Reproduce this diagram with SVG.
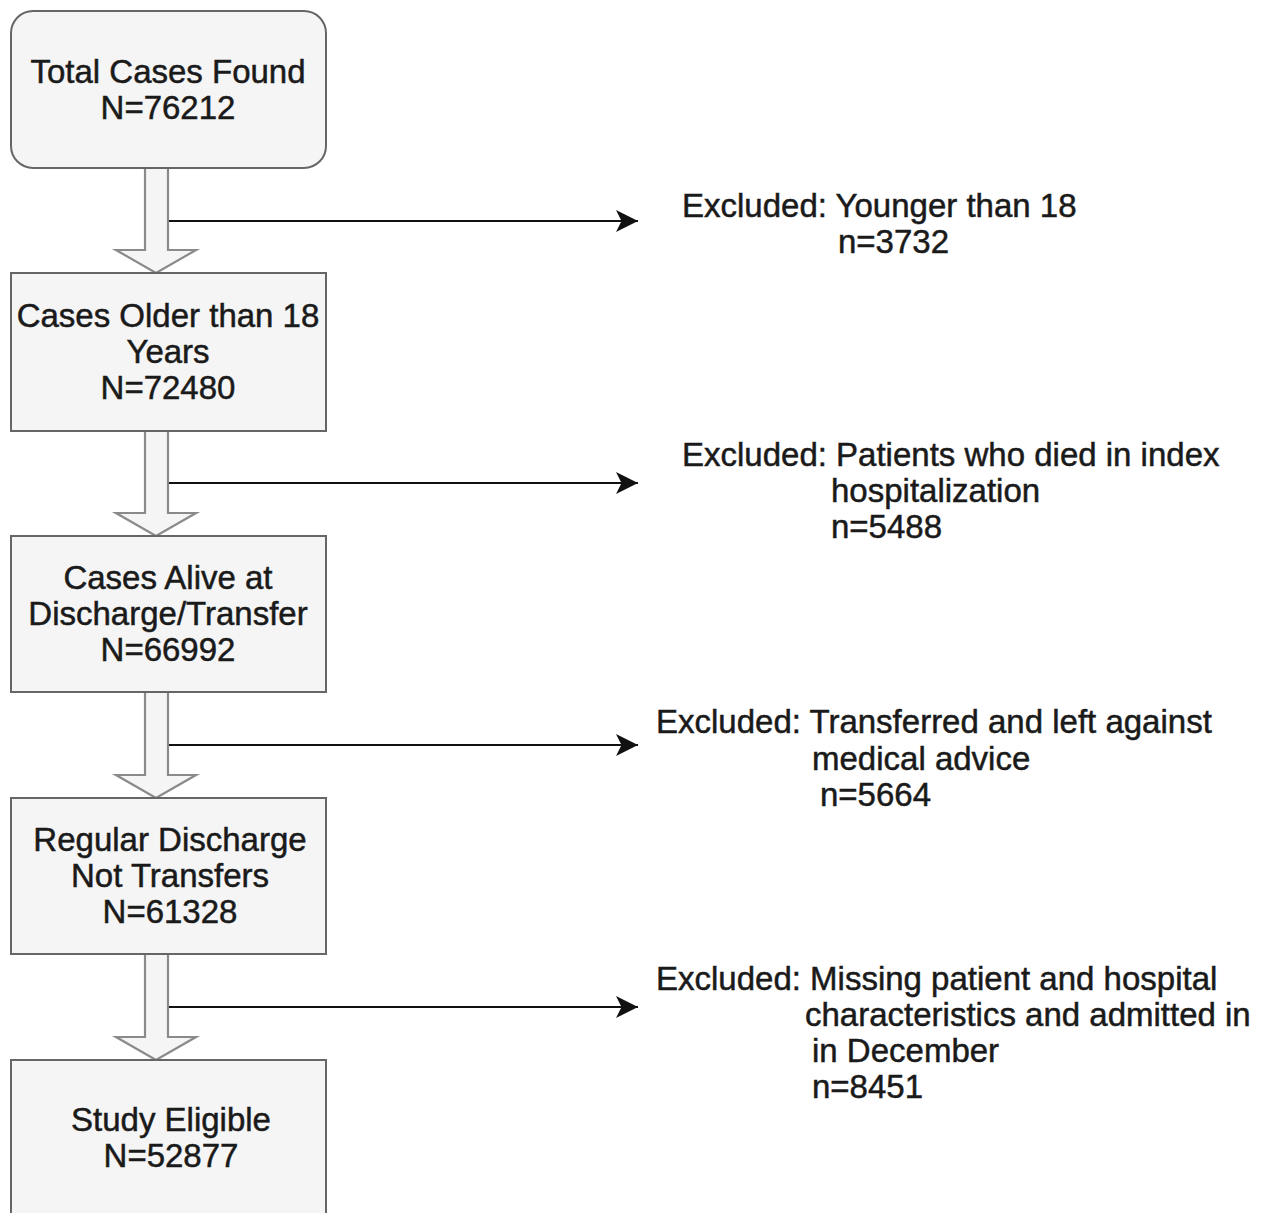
<svg xmlns="http://www.w3.org/2000/svg" width="1287" height="1213" viewBox="0 0 1287 1213">
<defs>
<style>
.box{fill:#f5f5f5;stroke:#666;stroke-width:2}
.blk{fill:#f5f5f5;stroke:#8a8a8a;stroke-width:2.2;stroke-linejoin:miter}
.t{font-family:"Liberation Sans",Arial,sans-serif;font-size:33px;fill:#1a1a1a;stroke:#1a1a1a;stroke-width:0.5}
.c{text-anchor:middle}
.ln{stroke:#111;stroke-width:2.2;fill:none}
</style>
<marker id="ah" markerWidth="12" markerHeight="12" refX="10" refY="5" orient="auto" markerUnits="strokeWidth" viewBox="0 0 12 10">
<path d="M0,0 L10,5 L0,10 L2.5,5 Z" fill="#111"/>
</marker>
</defs>
<rect width="1287" height="1213" fill="#fff"/>
<g id="connectors">
<polygon class="blk" points="145,168 168,168 168,250 196,250 156,273 116,250 145,250"/>
<polygon class="blk" points="145,431 168,431 168,513 196,513 156,536 116,513 145,513"/>
<polygon class="blk" points="145,692 168,692 168,775 196,775 156,798 116,775 145,775"/>
<polygon class="blk" points="145,954 168,954 168,1037 196,1037 156,1060 116,1037 145,1037"/>
<line class="ln" x1="169" y1="221" x2="638" y2="221" marker-end="url(#ah)"/>
<line class="ln" x1="169" y1="483" x2="638" y2="483" marker-end="url(#ah)"/>
<line class="ln" x1="169" y1="745" x2="638" y2="745" marker-end="url(#ah)"/>
<line class="ln" x1="169" y1="1007" x2="638" y2="1007" marker-end="url(#ah)"/>
</g>
<g id="n1">
<rect class="box" x="11" y="11" width="315" height="157" rx="22"/>
<text class="t c" x="168" y="83">Total Cases Found</text>
<text class="t c" x="168" y="119">N=76212</text>
</g>
<g id="n2">
<rect class="box" x="11" y="273" width="315" height="158"/>
<text class="t c" x="168" y="327">Cases Older than 18</text>
<text class="t c" x="168" y="363">Years</text>
<text class="t c" x="168" y="399">N=72480</text>
</g>
<g id="n3">
<rect class="box" x="11" y="536" width="315" height="156"/>
<text class="t c" x="168" y="589">Cases Alive at</text>
<text class="t c" x="168" y="625">Discharge/Transfer</text>
<text class="t c" x="168" y="661">N=66992</text>
</g>
<g id="n4">
<rect class="box" x="11" y="798" width="315" height="156"/>
<text class="t c" x="170" y="851">Regular Discharge</text>
<text class="t c" x="170" y="887">Not Transfers</text>
<text class="t c" x="170" y="923">N=61328</text>
</g>
<g id="n5">
<rect class="box" x="11" y="1060" width="315" height="170"/>
<text class="t c" x="171" y="1131">Study Eligible</text>
<text class="t c" x="171" y="1167">N=52877</text>
</g>
<g id="x1">
<text class="t" x="682" y="217">Excluded: Younger than 18</text>
<text class="t" x="838" y="253">n=3732</text>
</g>
<g id="x2">
<text class="t" x="682" y="466">Excluded: Patients who died in index</text>
<text class="t" x="831" y="502">hospitalization</text>
<text class="t" x="831" y="538">n=5488</text>
</g>
<g id="x3">
<text class="t" x="656" y="733">Excluded: Transferred and left against</text>
<text class="t" x="812" y="770">medical advice</text>
<text class="t" x="820" y="806">n=5664</text>
</g>
<g id="x4">
<text class="t" x="656" y="990">Excluded: Missing patient and hospital</text>
<text class="t" x="805" y="1026">characteristics and admitted in</text>
<text class="t" x="812" y="1062">in December</text>
<text class="t" x="812" y="1098">n=8451</text>
</g>
</svg>
